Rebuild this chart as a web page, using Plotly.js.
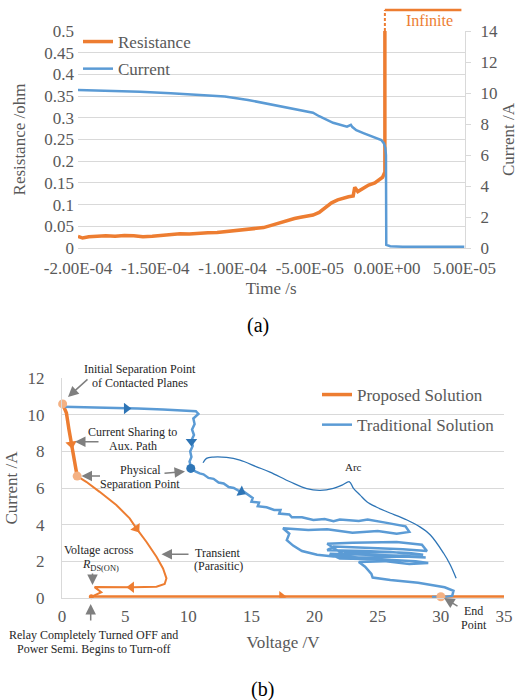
<!DOCTYPE html>
<html>
<head>
<meta charset="utf-8">
<script src="https://cdn.plot.ly/plotly-3.0.1.min.js"></script>
<style>html,body{margin:0;padding:0;background:#fff;}#chart{width:518px;height:700px;}</style>
</head>
<body>
<div id="chart"></div>
<script>
// ---------- (a) Resistance / Current vs time ----------
const timeTickVals = [-2.0e-4, -1.5e-4, -1.0e-4, -5.0e-5, 0, 5.0e-5];
const timeTickText = ['-2.00E-04', '-1.50E-04', '-1.00E-04', '-5.00E-05', '0.00E+00', '5.00E-05'];

const resTime = [-2.00e-4, -1.97e-4, -1.93e-4, -1.88e-4, -1.82e-4, -1.76e-4, -1.70e-4, -1.64e-4, -1.58e-4,
  -1.52e-4, -1.46e-4, -1.40e-4, -1.34e-4, -1.28e-4, -1.22e-4, -1.16e-4, -1.10e-4, -1.04e-4, -0.98e-4,
  -0.92e-4, -0.86e-4, -0.80e-4, -0.75e-4, -0.70e-4, -0.65e-4, -0.60e-4, -0.56e-4, -0.52e-4, -0.48e-4,
  -0.44e-4, -0.40e-4, -0.36e-4, -0.32e-4, -0.28e-4, -0.25e-4, -0.22e-4, -0.21e-4, -0.19e-4, -0.16e-4,
  -0.12e-4, -0.08e-4, -0.05e-4, -0.03e-4, -0.015e-4, -0.015e-4];
const resistance = [0.027, 0.023, 0.026, 0.027, 0.028, 0.027, 0.029, 0.028, 0.026,
  0.027, 0.029, 0.031, 0.033, 0.032, 0.034, 0.035, 0.036, 0.038, 0.041,
  0.043, 0.045, 0.047, 0.052, 0.058, 0.062, 0.068, 0.071, 0.073, 0.076,
  0.082, 0.092, 0.104, 0.111, 0.116, 0.118, 0.120, 0.140, 0.130, 0.137,
  0.145, 0.150, 0.157, 0.163, 0.175, 0.5];

const curTime = [-2.00e-4, -1.80e-4, -1.60e-4, -1.40e-4, -1.20e-4, -1.05e-4, -0.90e-4, -0.72e-4, -0.60e-4,
  -0.48e-4, -0.44e-4, -0.35e-4, -0.26e-4, -0.235e-4, -0.225e-4, -0.20e-4, -0.15e-4, -0.094e-4, -0.038e-4,
  -0.021e-4, -0.012e-4, -0.008e-4, -0.006e-4, 0.02e-4, 0.10e-4, 0.30e-4, 0.50e-4];
const current = [10.20, 10.15, 10.08, 9.98, 9.88, 9.78, 9.55, 9.20, 9.00,
  8.73, 8.50, 8.08, 7.83, 7.95, 7.80, 7.60, 7.40, 7.18, 6.97,
  6.75, 6.45, 6.00, 0.20, 0.12, 0.08, 0.08, 0.08];

const infiniteStart = -0.015e-4;   // where resistance becomes infinite
const infiniteEnd = 4.8e-5;

// ---------- (b) I-V trajectories ----------
const propV = [0.05, 0.35, 0.55, 0.75, 1.0, 1.2,
  1.92, 2.98, 4.3, 5.36, 5.89, 6.68, 7.48, 8.0, 8.27, 8.13, 7.48, 5.62, 2.98, 2.58, 3.11, 2.44, 2.32,
  11.0, 35];
const propI = [10.6, 10.1, 9.2, 8.4, 7.3, 6.65,
  6.34, 5.79, 5.07, 4.34, 3.79, 3.06, 2.24, 1.6, 1.06, 0.75, 0.6, 0.57, 0.55, 0.58, 0.3, 0.08, 0.05,
  0.05, 0.05];

const tradV = [0.1, 3, 6, 8, 10.6, 10.8, 10.4, 10.5, 10.3, 10.45, 10.25, 10.35, 10.15, 10.25, 10.1, 10.2, 10.2,
  10.6, 10.9, 11.2, 11.6, 12.0, 12.4, 12.8, 13.2, 13.6, 14.0, 14.4, 14.8, 15.1, 15.0, 15.6, 15.5, 16.2,
  16.8, 17.3, 17.2, 18.0, 18.2, 19.0, 19.9, 20.8, 21.5, 22.0, 23.5, 24.2, 25.5, 27.2, 27.5, 26.5, 25.0,
  23.0, 21.0, 19.5, 17.5, 18.0, 17.8, 18.3, 19.0, 20.2, 21.5, 22.5, 22.0, 21.0, 23.0, 26.5, 28.5, 28.9,
  27.0, 24.0, 21.5, 21.0, 24.0, 27.5, 28.6, 26.0, 22.5, 21.3, 23.5, 27.0, 28.8, 27.0, 23.0, 21.2, 22.0,
  25.0, 28.0, 29.0, 27.5, 25.5, 23.5, 24.0, 24.5, 24.6, 26.0, 28.2, 30.3, 31.0, 30.9, 30.3, 29.3];
const tradI = [10.45, 10.42, 10.35, 10.3, 10.2, 10.05, 9.8, 9.5, 9.2, 8.9, 8.6, 8.3, 8.0, 7.7, 7.45, 7.2, 7.05,
  6.9, 6.8, 6.75, 6.55, 6.5, 6.3, 6.25, 6.05, 6.0, 5.85, 5.8, 5.6, 5.45, 5.25, 5.2, 5.0, 4.95,
  4.8, 4.8, 4.6, 4.55, 4.4, 4.4, 4.25, 4.3, 4.18, 4.28, 4.2, 4.28, 4.12, 3.9, 3.6, 3.5, 3.65,
  3.55, 3.75, 3.7, 3.8, 3.5, 3.15, 2.85, 2.55, 2.35, 2.25, 2.3, 2.5, 2.95, 3.0, 3.05, 2.9, 2.55,
  2.65, 2.75, 2.8, 2.6, 2.55, 2.45, 2.35, 2.5, 2.45, 2.3, 2.2, 2.25, 2.2, 2.3, 2.35, 2.4, 2.15,
  2.1, 2.0, 1.9, 1.85, 2.0, 1.95, 1.7, 1.3, 1.1, 0.97, 0.82, 0.57, 0.38, 0.1, 0.04, 0.04];

// "Arc" brace
const arcV = [11.17, 11.44, 11.97, 13.03, 14.09, 15.41, 16.47, 18.06, 19.38, 20.44, 21.49, 22.18, 22.76,
  23.08, 23.61, 24.14, 24.88, 25.73, 27.32, 28.37, 29.17, 30.22, 30.75, 31.21];
const arcI = [7.38, 7.62, 7.69, 7.67, 7.52, 7.16, 6.87, 6.34, 5.96, 5.87, 5.98, 6.16, 6.34,
  5.98, 5.61, 5.25, 4.96, 4.70, 4.25, 3.86, 3.43, 2.43, 1.79, 1.06];

// direction arrows on the trajectories
const propArrowV = [0.75, 5.89, 5.5, 17.4];
const propArrowI = [8.4, 3.79, 0.57, 0.05];
const propArrowAngle = [171, 145, 270, 90];
const tradArrowV = [5.1, 10.25, 14.2];
const tradArrowI = [10.35, 8.55, 5.79];
const tradArrowAngle = [90, 180, 118];

// key points
const propPointV = [0.05, 1.2, 30.0];
const propPointI = [10.6, 6.65, 0.05];
const tradPointV = [10.2];
const tradPointI = [7.07];
const turnOffV = [2.32];
const turnOffI = [0.05];

const ORANGE = '#ed7d31', BLUE = '#5b9bd5', DBLUE = '#2e75b6', PEACH = '#f4b183';
const GRID = '#d9d9d9', TXT = '#595959', ANN = '#262626', ARR = '#7f7f7f';
const FONT = 'Liberation Serif, DejaVu Serif, serif';

const P = x => x / 518;
const Q = y => 1 - y / 700;

const traces = [
  {x: resTime, y: resistance, name: 'Resistance', type: 'scatter', mode: 'lines',
   line: {color: ORANGE, width: 3.5}, xaxis: 'x', yaxis: 'y', legend: 'legend', legendgroup: 'r'},
  {x: curTime, y: current, name: 'Current', type: 'scatter', mode: 'lines',
   line: {color: BLUE, width: 2.5}, xaxis: 'x', yaxis: 'y2', legend: 'legend', legendgroup: 'c'},

  {x: propV.slice(0, 6), y: propI.slice(0, 6), name: 'Proposed Solution', type: 'scatter', mode: 'lines',
   line: {color: ORANGE, width: 3.5}, xaxis: 'x2', yaxis: 'y3', legend: 'legend2', legendgroup: 'p'},
  {x: propV.slice(5, 23), y: propI.slice(5, 23), type: 'scatter', mode: 'lines', showlegend: false,
   line: {color: ORANGE, width: 2}, xaxis: 'x2', yaxis: 'y3'},
  {x: propV.slice(22), y: propI.slice(22), type: 'scatter', mode: 'lines', showlegend: false,
   line: {color: ORANGE, width: 3}, xaxis: 'x2', yaxis: 'y3'},
  {x: tradV, y: tradI, name: 'Traditional Solution', type: 'scatter', mode: 'lines',
   line: {color: BLUE, width: 2.5}, xaxis: 'x2', yaxis: 'y3', legend: 'legend2', legendgroup: 't'},
  {x: arcV, y: arcI, type: 'scatter', mode: 'lines', showlegend: false,
   line: {color: DBLUE, width: 1.3, shape: 'spline'}, xaxis: 'x2', yaxis: 'y3'},
  {x: propArrowV, y: propArrowI, type: 'scatter', mode: 'markers', showlegend: false,
   marker: {symbol: 'triangle-up', size: 10, color: ORANGE, angle: propArrowAngle}, xaxis: 'x2', yaxis: 'y3'},
  {x: tradArrowV, y: tradArrowI, type: 'scatter', mode: 'markers', showlegend: false,
   marker: {symbol: 'triangle-up', size: 10, color: DBLUE, angle: tradArrowAngle}, xaxis: 'x2', yaxis: 'y3'},
  {x: propPointV, y: propPointI, type: 'scatter', mode: 'markers', showlegend: false,
   marker: {size: 9, color: PEACH}, xaxis: 'x2', yaxis: 'y3', cliponaxis: false},
  {x: tradPointV, y: tradPointI, type: 'scatter', mode: 'markers', showlegend: false,
   marker: {size: 9, color: DBLUE}, xaxis: 'x2', yaxis: 'y3'},
  {x: turnOffV, y: turnOffI, type: 'scatter', mode: 'markers', showlegend: false,
   marker: {size: 5, color: ORANGE}, xaxis: 'x2', yaxis: 'y3', cliponaxis: false}
];

function txt(text, x, y, size, color, extra) {
  return Object.assign({text: text, x: P(x), y: Q(y), xref: 'paper', yref: 'paper', showarrow: false,
    xanchor: 'center', yanchor: 'middle', font: {family: FONT, size: size || 12, color: color || ANN}}, extra || {});
}
function arr(tipx, tipy, tailx, taily) {
  return {text: '', x: P(tipx), y: Q(tipy), xref: 'paper', yref: 'paper', showarrow: true,
    ax: tailx - tipx, ay: taily - tipy, arrowhead: 2, arrowsize: 1.4, arrowwidth: 1.5, arrowcolor: ARR, standoff: 0};
}

const annotations = [
  txt('Infinite', 429, 20, 16, ORANGE),
  txt('(a)', 258, 325, 20, '#000'),
  txt('(b)', 262, 689, 20, '#000'),

  txt('Initial Separation Point', 139.5, 368.5),
  txt('of Contacted Planes', 139.5, 383),
  arr(68, 397, 89, 378),
  txt('Current Sharing to', 132, 431.5),
  txt('Aux. Path', 133, 445.5),
  arr(75, 441.7, 100, 441.7),
  txt('Physical', 140, 469.5),
  txt('Separation Point', 140, 483.5),
  arr(81.5, 476, 101.5, 476),
  arr(185, 471.5, 163, 473.5),
  txt('Transient', 218, 552.5),
  txt('(Parasitic)', 218, 566),
  arr(161.5, 554.3, 190, 554.3),
  txt('Voltage across', 99, 550),
  txt('<i>R</i><sub>DS(ON)</sub>', 100, 565),
  arr(92.5, 585, 92.5, 572),
  arr(90.7, 604, 90.7, 622),
  txt('Relay Completely Turned OFF and', 93, 634.5),
  txt('Power Semi. Begins to Turn-off', 93, 648.5),
  txt('Arc', 353, 467, 11),
  txt('End', 473, 611),
  txt('Point', 473.5, 625),
  arr(444, 598, 459, 607)
];

const shapes = [
  {type: 'line', xref: 'x', yref: 'paper', x0: infiniteStart, x1: infiniteStart, y0: Q(31), y1: Q(10),
   line: {color: ORANGE, width: 2, dash: '3px,2px'}},
  {type: 'line', xref: 'x', yref: 'paper', x0: infiniteStart, x1: infiniteEnd, y0: Q(10), y1: Q(10),
   line: {color: ORANGE, width: 2.5}}
];

const tickFont = {family: FONT, size: 17, color: TXT};
const titleFont = {family: FONT, size: 17, color: TXT};

const layout = {
  width: 518, height: 700,
  margin: {l: 0, r: 0, t: 0, b: 0},
  paper_bgcolor: '#fff', plot_bgcolor: 'rgba(0,0,0,0)',
  font: {family: FONT, color: TXT},
  showlegend: true,
  xaxis: {domain: [P(78), P(464.5)], anchor: 'y', range: [-2.0e-4, 5.0e-5],
    tickvals: timeTickVals, ticktext: timeTickText, showgrid: false, zeroline: false,
    showline: true, linecolor: GRID, linewidth: 1, ticks: '', tickfont: tickFont, ticklabelstandoff: 5,
    title: {text: 'Time /s', font: titleFont, standoff: 4}},
  yaxis: {domain: [Q(248), Q(31)], anchor: 'x', range: [0, 0.5], dtick: 0.05, tick0: 0,
    showgrid: true, gridcolor: GRID, zeroline: false, showline: false, ticks: '', tickfont: tickFont,
    ticklabelstandoff: 3, title: {text: 'Resistance /ohm', font: titleFont, standoff: 14}},
  yaxis2: {overlaying: 'y', side: 'right', anchor: 'x', range: [0, 14], dtick: 2, tick0: 0,
    showgrid: false, zeroline: false, showline: true, linecolor: GRID, linewidth: 1.5,
    ticks: 'outside', ticklen: 5, tickcolor: GRID, tickfont: tickFont, ticklabelstandoff: 6,
    title: {text: 'Current /A', font: titleFont, standoff: 8}},

  xaxis2: {domain: [P(62), P(504)], anchor: 'y3', range: [0, 35], dtick: 5, tick0: 0,
    showgrid: false, zeroline: false, showline: true, linecolor: GRID, linewidth: 1, ticks: '',
    tickfont: tickFont, ticklabelstandoff: 3,
    title: {text: 'Voltage /V', font: titleFont, standoff: 11}},
  yaxis3: {domain: [Q(597.7), Q(378.3)], anchor: 'x2', range: [0, 12], dtick: 2, tick0: 0,
    showgrid: true, gridcolor: GRID, zeroline: false, showline: true, linecolor: GRID, linewidth: 1,
    ticks: '', tickfont: tickFont, ticklabelstandoff: 13,
    title: {text: 'Current /A', font: titleFont, standoff: 5}},

  legend: {x: P(78), y: Q(24), xanchor: 'left', yanchor: 'top', bgcolor: 'rgba(0,0,0,0)',
    font: {family: FONT, size: 17, color: TXT}, tracegroupgap: 2, traceorder: 'grouped', itemwidth: 30},
  legend2: {x: P(317), y: Q(377), xanchor: 'left', yanchor: 'top', bgcolor: 'rgba(0,0,0,0)',
    font: {family: FONT, size: 17, color: TXT}, tracegroupgap: 5, traceorder: 'grouped', itemwidth: 30},

  annotations: annotations,
  shapes: shapes
};

Plotly.newPlot('chart', traces, layout, {displayModeBar: false, staticPlot: true});
</script>
</body>
</html>
